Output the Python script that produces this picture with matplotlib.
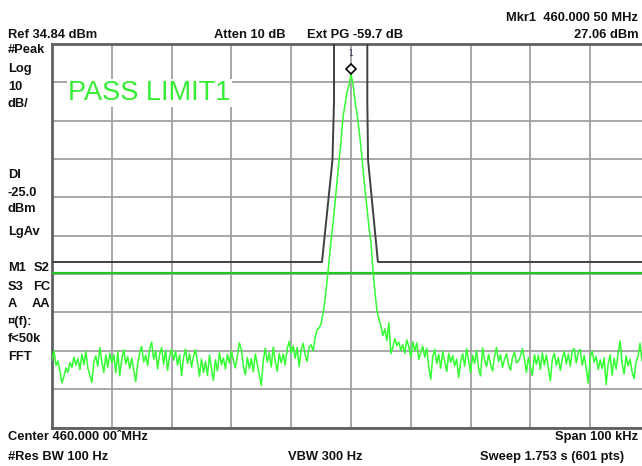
import numpy as np
import matplotlib.pyplot as plt
from matplotlib import transforms

# spectrum analyser screen: 460 MHz carrier, 100 kHz span
ref_level = 34.84
db_per_div = 10
span_khz = 100
display_line = -25.0

# trace in dBm, 301 points across the span
trace_dbm = [
    -47.5, -45.2, -49.0, -47.8, -50.5, -53.5, -51.8, -49.6, -50.8, -48.2,
    -49.5, -46.8, -48.9, -47.2, -50.1, -46.0, -48.8, -45.3, -49.7, -51.5,
    -53.4, -48.0, -46.5, -49.2, -44.3, -47.9, -50.8, -46.2, -49.5, -45.8,
    -48.3, -46.1, -50.9, -45.4, -51.7, -47.3, -44.9, -48.6, -46.7, -49.8,
    -47.1, -50.2, -53.2, -48.4, -45.7, -44.0, -48.1, -46.3, -49.0, -44.6,
    -42.9, -47.4, -45.2, -49.9, -46.0, -44.3, -48.7, -45.1, -50.3, -46.4,
    -44.8, -47.6, -45.3, -48.9, -46.2, -51.6, -47.0, -44.7, -48.5, -45.9,
    -49.4, -46.6, -44.9, -48.2, -51.8, -47.3,
    -50.8, -47.9, -51.6, -46.3, -49.7, -52.9, -47.5, -50.4, -45.6, -48.8,
    -47.0, -49.9, -46.1, -48.4, -45.3, -47.7, -49.6, -46.4, -43.1, -44.8,
    -49.2, -51.4, -46.9, -49.8, -47.2, -50.6, -46.0, -48.7, -51.3, -54.2,
    -47.6, -44.5, -48.1, -45.7, -49.4, -44.2, -47.8, -50.5, -45.9, -48.3,
    -46.0, -48.9, -44.6, -42.7, -45.8, -43.9, -47.1, -44.3, -49.3, -45.0,
    -43.2, -46.2, -47.9, -44.1, -43.6, -45.2, -41.7, -39.6, -39.2, -38.1,
    -35.4, -31.5, -27.0, -21.8,
    -16.4, -11.8, -6.3, -1.0, 4.4, 9.3, 15.9, 19.0, 22.4, 24.0,
    27.06, 24.4, 20.0, 16.8, 12.6, 7.9, 2.3, -3.1, -7.8, -12.9,
    -16.8, -24.0, -29.8, -34.6, -36.9, -38.6, -41.2, -39.5,
    -42.5, -37.8, -45.9, -44.2, -42.0, -43.8, -42.9, -45.1, -43.6, -45.8,
    -42.3, -44.0, -46.9, -42.8, -45.2, -43.1, -47.4, -45.6, -44.0, -46.8,
    -44.5, -49.3, -52.6, -46.7, -44.8, -48.5, -46.1, -49.7, -45.3, -47.9,
    -50.6, -45.8, -48.2, -46.4, -49.1, -47.3, -52.1, -48.0, -45.9, -49.2,
    -44.6, -47.7, -50.9, -46.3, -48.5, -45.1, -49.8, -51.7, -44.4, -47.5,
    -49.3, -46.1, -48.7, -50.4, -46.6, -44.3, -48.0, -46.2, -49.5, -47.4,
    -45.9, -48.8, -50.2, -47.0, -45.5, -48.3,
    -47.9, -46.5, -44.6, -47.3, -50.8, -46.9, -49.5, -51.6, -46.1, -48.7,
    -46.3, -50.1, -45.7, -48.9, -46.2, -49.6, -53.0, -47.4, -45.8, -49.0,
    -46.9, -50.3, -47.2, -45.4, -48.6, -46.0, -49.2, -45.1, -44.6, -48.3,
    -45.5, -44.8, -48.9, -46.4, -49.7, -53.6, -46.8, -45.3, -48.1, -46.6,
    -50.0, -47.5, -49.8, -47.0, -54.0, -48.6, -46.2, -51.5, -47.1, -49.9,
    -45.8, -42.6, -48.4, -51.2, -46.5, -49.1, -47.3, -50.6, -52.4, -48.0,
    -46.7, -43.2, -47.8, -48.5, -46.9, -49.4, -47.6,
]

# limit line mask (kHz offset, dBm)
limit_khz = [-50, -4.85, -3.1, -2.84, -2.84, 2.73, 2.73, 2.85, 4.5, 50]
limit_dbm = [-22, -22, 4.6, 20, 40, 40, 20, 4.6, -22, -22]

freq_khz = np.linspace(-span_khz / 2, span_khz / 2, len(trace_dbm))

fig = plt.figure(figsize=(6.42, 4.66), dpi=100)
ax = fig.add_axes([52 / 642, 1 - 427.5 / 466, 598 / 642, 383.5 / 466])

bottom = ref_level - 10 * db_per_div
ax.set_xlim(-span_khz / 2, span_khz / 2)
ax.set_ylim(bottom, ref_level)
ax.set_xticks(np.arange(-50, 51, 10))
ax.set_yticks(np.arange(bottom, ref_level + 0.1, db_per_div))
ax.grid(True, color='#a0a0a0', lw=1.3)
ax.tick_params(length=0, labelbottom=False, labelleft=False)
for s in ax.spines.values():
    s.set_color('#606060')
    s.set_linewidth(2)

ax.plot(limit_khz, limit_dbm, color='#404040', lw=1.4, zorder=3)
ax.axhline(display_line, color='#22c822', lw=1.6, zorder=3)
ax.plot(freq_khz, trace_dbm, color='#33ff33', lw=1.1, zorder=4)

# marker 1 on the peak
pk = int(np.argmax(trace_dbm))
off = transforms.offset_copy(ax.transData, fig=fig, x=0, y=3.5, units='points')
ax.plot(freq_khz[pk], trace_dbm[pk], marker='D', ms=5.5, mfc='white',
        mec='black', mew=1.2, transform=off, zorder=6)
ax.annotate('1', (freq_khz[pk], trace_dbm[pk]), xytext=(0, 15),
            textcoords='offset points', ha='center', va='center',
            fontsize=5.5, color='#443355', zorder=6)

fig.text(68 / 642, 1 - 93 / 466, 'PASS LIMIT1', color='#33ee33', fontsize=19.5,
         family='Liberation Sans', va='center', ha='left',
         bbox=dict(facecolor='white', edgecolor='none', pad=1))

fs = 9.3
kw = dict(fontsize=fs, family='Liberation Sans', weight='bold', color='#111111',
          va='center')


def t(x, y, s, ha='left'):
    fig.text(x / 642, 1 - y / 466, s, ha=ha, **kw)


t(638, 18, 'Mkr1  460.000 50 MHz', 'right')
t(8, 35, 'Ref 34.84 dBm')
t(214, 35, 'Atten 10 dB')
t(307, 35, 'Ext PG -59.7 dB')
t(638, 35, '27.06 dBm', 'right')

left_labels = [('#Peak', 50), ('Log', 69), ('10', 87), ('dB/', 104),
               ('DI', 175), ('-25.0', 193), ('dBm', 209), ('LgAv', 232),
               ('M1', 268), ('S3', 287), ('A', 304), ('\u00a4(f):', 322),
               ('f<50k', 339), ('FFT', 357)]
for s, y in left_labels:
    t(8, y, s)
for s, y in [('S2', 268), ('FC', 287), ('AA', 304)]:
    t(50, y, s, 'right')

t(8, 437, 'Center 460.000 00\u02c6MHz')
t(638, 437, 'Span 100 kHz', 'right')
t(8, 457, '#Res BW 100 Hz')
t(288, 457, 'VBW 300 Hz')
t(480, 457, 'Sweep 1.753 s (601 pts)')

fig.savefig('out.png', dpi=100)
